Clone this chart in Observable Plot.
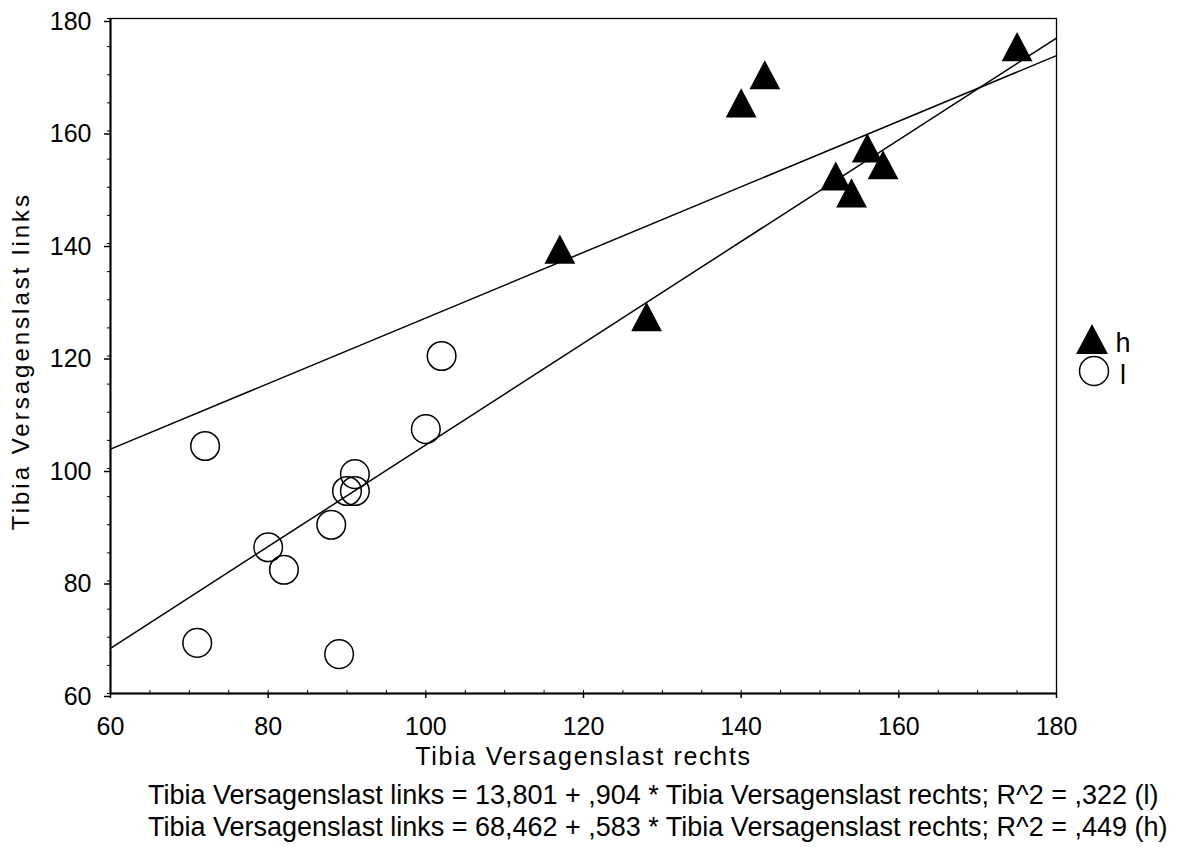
<!DOCTYPE html>
<html>
<head>
<meta charset="utf-8">
<script src="https://cdn.jsdelivr.net/npm/d3@7"></script>
<script src="https://cdn.jsdelivr.net/npm/@observablehq/plot@0.6"></script>
<style>
  html, body { margin: 0; padding: 0; background: #fff; overflow: hidden; }
  #wrap { position: relative; width: 1181px; height: 847px; font-family: "Liberation Sans", Arial, sans-serif; color: #000; }
  #chart { position: absolute; left: 0; top: 0; }
  #caption { position: absolute; left: 148px; top: 780px; font-size: 27px; line-height: 31.5px; white-space: nowrap; }
</style>
</head>
<body>
<div id="wrap">
  <div id="chart"></div>
  <div id="caption"></div>
</div>
<script>
// ---- data ----
const xLabel = "Tibia Versagenslast rechts";
const yLabel = "Tibia Versagenslast links";
const groups = ["h", "l"];

// group "l"
const lX = [71, 72, 80, 82, 88, 89, 90, 91, 91, 100, 102];
const lY = [69, 104, 86, 82, 90, 67, 96, 99, 96, 107, 120];
// group "h"
const hX = [117, 128, 140, 143, 152, 154, 156, 158, 175];
const hY = [139, 127, 165, 170, 152, 149, 157, 154, 175];

// fitted regression lines (from the caption)
const fitGroups = ["l", "h"];
const intercepts = [13.801, 68.462];
const slopes = [0.904, 0.583];
const rSquared = [",322", ",449"];
const interceptLabels = ["13,801", "68,462"];
const slopeLabels = [",904", ",583"];

const xDomain = [60, 180];
const yDomain = [60, 180];
const majorTicks = [60, 80, 100, 120, 140, 160, 180];
const minorTicks = d3.range(60, 181, 5);

// ---- build tables ----
const lData = lX.map((x, i) => ({x, y: lY[i], group: "l"}));
const hData = hX.map((x, i) => ({x, y: hY[i], group: "h"}));
const fitData = fitGroups.flatMap((g, i) => xDomain.map(x => ({group: g, x, y: intercepts[i] + slopes[i] * x})));

// triangle centred on its bounding box (as in the original)
const triSym = {
  draw(ctx, size) {
    const r = Math.sqrt(size / Math.PI);
    const hh = r * 1.04, hw = r * 1.1;
    ctx.moveTo(0, -hh);
    ctx.lineTo(hw, hh);
    ctx.lineTo(-hw, hh);
    ctx.closePath();
  }
};

const W = 1181, H = 780;
const svg = Plot.plot({
  width: W,
  height: H,
  marginLeft: 110,
  marginRight: 125,
  marginTop: 18,
  marginBottom: H - 693,
  style: {fontFamily: "'Liberation Sans', Arial, sans-serif", fontSize: "25px", color: "#000", background: "#fff", overflow: "visible"},
  x: {domain: xDomain},
  y: {domain: yDomain},
  marks: [
    Plot.frame({stroke: "#000", strokeWidth: 1.3}),
    Plot.ruleX([xDomain[0]], {stroke: "#000", strokeWidth: 2}),
    Plot.ruleY([yDomain[0]], {stroke: "#000", strokeWidth: 2}),
    Plot.axisY({ticks: minorTicks, tickSize: 3, tickFormat: () => "", label: null}),
    Plot.axisX({ticks: minorTicks, tickSize: -3, tickFormat: () => "", label: null}),
    Plot.axisY({ticks: majorTicks, tickSize: 6, tickPadding: 13, dy: 3, label: null, strokeWidth: 1.5, fontSize: 25}),
    Plot.axisX({ticks: majorTicks, tickSize: 5, tickPadding: 19, label: null, strokeWidth: 1.5, fontSize: 25}),
    Plot.text([xLabel], {frameAnchor: "bottom", text: d => d, lineAnchor: "top", textAnchor: "middle", dy: 54, fontSize: 25}),
    Plot.text([yLabel], {frameAnchor: "left", text: d => d, rotate: -90, lineAnchor: "middle", textAnchor: "middle", dx: -89, dy: 5, fontSize: 24}),
    Plot.line(fitData, {x: "x", y: "y", z: "group", stroke: "#000", strokeWidth: 1.5}),
    Plot.dot(lData, {x: "x", y: "y", r: 14.3, symbol: "circle", fill: "none", stroke: "#000", strokeWidth: 1.5}),
    Plot.dot(hData, {x: "x", y: "y", r: 14, symbol: triSym, fill: "#000", stroke: "none"})
  ]
});

// letter spacing on axis titles
d3.select(svg).selectAll("text").each(function() {
  if (this.textContent === xLabel) this.style.letterSpacing = "1.7px";
  if (this.textContent === yLabel) this.style.letterSpacing = "3px";
});

// legend (right side)
const leg = d3.select(svg).append("g").attr("font-size", 27).attr("fill", "#000");
const legendItems = [
  {g: groups[0], type: triSym, fill: "#000", stroke: "none", cx: 1092, cy: 339, r: 14.5},
  {g: groups[1], type: d3.symbolCircle, fill: "none", stroke: "#000", cx: 1094, cy: 371, r: 14.5}
];
legendItems.forEach((it, i) => {
  leg.append("path")
    .attr("transform", `translate(${it.cx},${it.cy})`)
    .attr("d", d3.symbol().type(it.type).size(Math.PI * it.r * it.r)())
    .attr("fill", it.fill).attr("stroke", it.stroke).attr("stroke-width", 1.5);
  leg.append("text").attr("x", 1123).attr("y", it.cy + 13).text(it.g);
});

document.getElementById("chart").appendChild(svg);

// caption
const cap = document.getElementById("caption");
fitGroups.forEach((g, i) => {
  const div = document.createElement("div");
  div.textContent = `${yLabel} = ${interceptLabels[i]} + ${slopeLabels[i]} * ${xLabel}; R^2 = ${rSquared[i]} (${g})`;
  cap.appendChild(div);
});
</script>
</body>
</html>
